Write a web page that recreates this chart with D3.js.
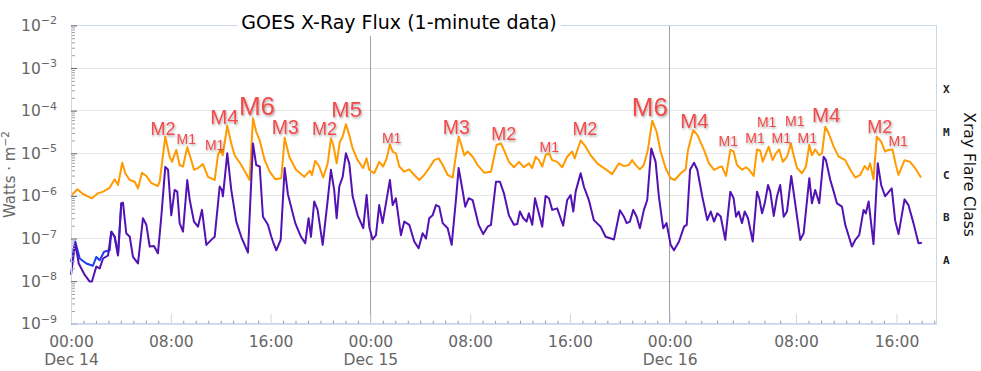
<!DOCTYPE html>
<html>
<head>
<meta charset="utf-8">
<script src="https://cdn.jsdelivr.net/npm/d3@7/dist/d3.min.js"></script>
<style>
  body { margin: 0; background: #fff; }
  svg text { font-family: "DejaVu Sans", sans-serif; }
</style>
</head>
<body>
<div id="chart"></div>
<script>
// hours are counted from Dec 14 00:00 UTC, flux in W/m^2

// GOES long channel (1-8 A), orange
var longChannel = [
  [0.00,1.0e-6],[0.51,1.43e-6],[0.96,1.11e-6],[1.68,8.8e-7],[2.16,1.15e-6],[2.57,1.26e-6],[3.10,1.55e-6],
  [3.50,2.45e-6],[3.77,1.8e-6],[4.11,6.0e-6],[4.35,3.4e-6],[4.71,2.36e-6],[5.11,2.15e-6],[5.37,1.5e-6],
  [5.69,3.5e-6],[6.04,2.93e-6],[6.44,2.0e-6],[6.97,1.71e-6],[7.11,2.15e-6],[7.56,2.45e-5],[7.91,8.3e-6],
  [8.10,6.3e-6],[8.44,1.2e-5],[8.71,5.3e-6],[8.98,4.9e-6],[9.32,1.38e-5],[9.52,9.1e-6],[9.86,4.1e-6],
  [10.18,4.5e-6],[10.58,5.6e-6],[10.98,2.8e-6],[11.52,2.36e-6],[11.78,9.1e-6],[12.00,1.23e-5],[12.16,9.0e-6],
  [12.53,4.4e-5],[12.85,1.7e-5],[13.12,9.0e-6],[13.65,5.3e-6],[14.32,2.36e-6],[14.59,6.6e-5],[14.85,3.2e-5],
  [15.13,2.0e-5],[15.53,6.9e-6],[15.93,3.7e-6],[16.38,2.45e-6],[16.86,2.6e-6],[17.13,2.3e-5],[17.50,8.3e-6],
  [18.04,4.1e-6],[18.70,2.8e-6],[19.16,3.9e-6],[19.32,3.1e-6],[19.58,6.7e-6],[19.90,4.9e-6],[20.22,2.7e-6],
  [20.58,5.8e-6],[20.84,2.25e-5],[21.03,1.57e-5],[21.30,5.8e-6],[21.56,1.87e-5],[21.78,2.45e-5],[22.04,4.8e-5],
  [22.31,2.7e-5],[22.58,1.3e-5],[22.98,6.9e-6],[23.43,4.5e-6],[23.70,7.6e-6],[23.91,4.1e-6],[24.31,3.4e-6],
  [24.71,6.3e-6],[25.03,4.9e-6],[25.31,7.6e-6],[25.57,1.6e-5],[25.79,1.1e-5],[26.05,1.0e-5],[26.32,4.9e-6],
  [26.72,3.7e-6],[27.12,4.2e-6],[27.52,3.1e-6],[27.92,2.36e-6],[28.32,3.1e-6],[28.72,4.5e-6],[29.12,6.9e-6],
  [29.48,7.6e-6],[29.80,5.3e-6],[30.20,3.1e-6],[30.60,2.7e-6],[31.08,2.45e-5],[31.34,1.43e-5],[31.53,9.0e-6],
  [31.80,1.1e-5],[32.20,8.3e-6],[32.60,5.3e-6],[33.13,3.5e-6],[33.67,3.7e-6],[34.12,1.57e-5],[34.47,1.7e-5],
  [34.71,1.2e-5],[35.11,6.3e-6],[35.51,4.7e-6],[35.91,6.3e-6],[36.31,4.7e-6],[36.71,5.8e-6],[36.98,4.5e-6],
  [37.25,8.3e-6],[37.52,6.9e-6],[37.78,4.9e-6],[38.05,9.0e-6],[38.32,1.0e-5],[38.58,6.9e-6],[38.98,6.3e-6],
  [39.38,4.7e-6],[39.78,8.3e-6],[40.18,1.1e-5],[40.38,7.6e-6],[40.86,2.0e-5],[41.26,1.43e-5],[41.66,9.0e-6],
  [42.19,5.8e-6],[42.73,4.5e-6],[43.39,3.25e-6],[43.93,5.8e-6],[44.33,5.0e-6],[44.73,5.3e-6],[44.99,6.9e-6],
  [45.27,5.3e-6],[45.61,4.2e-6],[45.93,5.3e-6],[46.25,1.2e-5],[46.60,5.8e-5],[46.95,3.2e-5],[47.27,1.1e-5],
  [47.67,4.5e-6],[48.06,2.6e-6],[48.32,2.36e-6],[48.70,3.4e-6],[49.01,4.2e-6],[49.16,1.2e-5],[49.49,3.5e-5],
  [49.75,2.7e-5],[50.17,1.2e-5],[50.49,5.8e-6],[50.81,4.1e-6],[51.12,4.7e-6],[51.31,4.9e-6],[51.57,2.95e-6],
  [51.84,1.2e-5],[52.05,1.1e-5],[52.26,5.3e-6],[52.58,4.1e-6],[52.83,4.7e-6],[53.04,4.1e-6],[53.32,2.95e-6],
  [53.53,1.23e-5],[53.74,1.15e-5],[53.89,6.3e-6],[54.27,1.43e-5],[54.52,6.9e-6],[54.73,1.0e-5],[54.94,1.23e-5],
  [55.16,6.3e-6],[55.43,8.3e-6],[55.68,1.7e-5],[55.85,9.0e-6],[56.08,4.5e-6],[56.48,3.4e-6],[56.79,4.9e-6],
  [57.06,1.57e-5],[57.27,9.0e-6],[57.53,1.23e-5],[57.85,9.0e-6],[58.07,1.0e-5],[58.33,4.2e-5],[58.60,2.95e-5],
  [59.00,1.43e-5],[59.40,8.3e-6],[59.92,6.9e-6],[60.32,4.1e-6],[60.72,2.7e-6],[61.11,3.1e-6],[61.46,5.0e-6],
  [61.72,4.1e-6],[61.90,5.8e-6],[62.17,2.45e-6],[62.43,2.45e-5],[62.78,1.87e-5],[63.09,1.1e-5],[63.36,1.2e-5],
  [63.68,1.23e-5],[63.95,5.3e-6],[64.16,3.1e-6],[64.64,6.9e-6],[65.08,6.3e-6],[65.48,4.5e-6],[65.95,2.7e-6]
];

// GOES short channel (0.5-4 A), purple
var shortChannel = [
  [0.00,1.4e-8],[0.34,7.8e-8],[0.62,2.6e-8],[1.10,1.4e-8],[1.50,9.8e-9],[1.68,9.8e-9],[2.03,2.2e-8],
  [2.30,2.0e-8],[2.57,3.4e-8],[2.97,4.0e-8],[3.23,1.45e-7],[3.50,1.1e-7],[3.77,4.0e-8],[4.03,6.7e-7],
  [4.17,6.9e-7],[4.43,1.33e-7],[4.71,1.1e-7],[4.97,3.7e-8],[5.37,2.6e-8],[5.77,3.0e-7],[6.04,2.1e-7],
  [6.31,6.5e-8],[6.65,6.7e-8],[6.97,4.5e-8],[7.24,3.25e-7],[7.56,4.8e-6],[7.78,4.1e-6],[8.04,3.5e-7],
  [8.31,1.38e-6],[8.52,1.26e-6],[8.71,2.3e-7],[8.98,1.45e-7],[9.32,2.36e-6],[9.52,8.0e-7],[9.86,2.5e-7],
  [10.18,1.9e-7],[10.50,4.7e-7],[10.85,7.1e-8],[11.25,9.3e-8],[11.52,1.1e-7],[11.92,1.66e-6],[12.10,1.38e-6],
  [12.18,9.8e-7],[12.53,1.0e-5],[12.85,1.38e-6],[13.25,2.5e-7],[13.65,1.1e-7],[14.19,4.7e-8],[14.59,1.7e-5],
  [14.85,5.3e-6],[15.13,4.9e-6],[15.39,3.25e-7],[15.79,2.1e-7],[16.06,1.1e-7],[16.19,8.5e-8],[16.46,5.3e-8],
  [16.81,9.3e-8],[17.13,4.5e-6],[17.39,1.1e-6],[17.98,2.3e-7],[18.44,1.1e-7],[18.78,7.8e-8],[19.05,3.0e-7],
  [19.24,1.1e-7],[19.50,7.4e-7],[19.77,4.7e-7],[20.18,7.1e-8],[20.58,8.0e-7],[20.84,4.1e-6],[21.10,1.38e-6],
  [21.30,3.0e-7],[21.51,1.66e-6],[21.78,2.8e-6],[22.04,1.0e-5],[22.31,5.8e-6],[22.58,9.8e-7],[22.98,3.5e-7],
  [23.43,1.75e-7],[23.70,1.05e-6],[23.91,1.9e-7],[24.18,9.5e-8],[24.45,1.2e-7],[24.71,6.1e-7],[24.98,2.3e-7],
  [25.25,6.7e-7],[25.57,2.36e-6],[25.79,6.1e-7],[26.05,8.8e-7],[26.45,1.2e-7],[26.72,2.5e-7],[27.12,2.1e-7],
  [27.52,8.5e-8],[27.87,5.9e-8],[28.19,1.33e-7],[28.46,1.0e-7],[28.72,3.0e-7],[28.99,3.5e-7],[29.26,6.1e-7],
  [29.52,5.6e-7],[29.80,2.3e-7],[30.20,1.75e-7],[30.52,7.1e-8],[30.86,8.0e-7],[31.08,4.5e-6],[31.34,1.66e-6],
  [31.61,5.6e-7],[31.88,8.8e-7],[32.20,8.0e-7],[32.68,2.1e-7],[33.05,1.27e-7],[33.40,1.9e-7],[33.67,2.1e-7],
  [34.07,2.15e-6],[34.39,2.15e-6],[34.71,1.15e-6],[35.11,3.5e-7],[35.51,2.1e-7],[35.78,2.2e-7],[35.99,4.3e-7],
  [36.26,3.0e-7],[36.53,2.5e-7],[36.71,3.9e-7],[36.98,2.1e-7],[37.20,8.8e-7],[37.44,4.7e-7],[37.78,1.9e-7],
  [38.05,1.0e-6],[38.32,8.8e-7],[38.58,4.7e-7],[38.98,5.1e-7],[39.46,2.0e-7],[39.78,8.0e-7],[40.06,1.05e-6],
  [40.27,4.3e-7],[40.46,1.26e-6],[40.86,3.4e-6],[41.12,1.66e-6],[41.52,8.0e-7],[41.92,2.7e-7],[42.46,1.9e-7],
  [42.86,1.1e-7],[43.53,9.5e-8],[44.01,4.6e-7],[44.33,3.25e-7],[44.55,2.3e-7],[44.81,2.5e-7],[45.08,4.7e-7],
  [45.35,3.25e-7],[45.61,1.75e-7],[45.93,4.7e-7],[46.20,8.0e-7],[46.52,1.3e-5],[46.87,6.3e-6],[47.13,9.8e-7],
  [47.48,1.75e-7],[47.75,2.3e-7],[48.06,7.1e-8],[48.27,5.3e-8],[48.59,8.5e-8],[48.91,1.9e-7],[49.08,2.1e-7],
  [49.29,4.1e-6],[49.54,6.0e-6],[49.75,4.1e-6],[50.06,9.8e-7],[50.38,2.7e-7],[50.60,4.3e-7],[50.81,2.5e-7],
  [51.01,3.9e-7],[51.23,3.3e-7],[51.52,9.3e-8],[51.84,1.26e-6],[52.05,8.8e-7],[52.20,3.25e-7],[52.37,4.3e-7],
  [52.58,2.3e-7],[52.75,4.3e-7],[52.96,3.0e-7],[53.26,8.5e-8],[53.53,1.26e-6],[53.67,8.8e-7],[53.85,3.9e-7],
  [54.02,6.7e-7],[54.23,1.8e-6],[54.37,1.26e-6],[54.59,3.4e-7],[54.80,9.8e-7],[55.00,1.8e-6],[55.22,3.25e-7],
  [55.43,4.3e-7],[55.70,2.95e-6],[55.92,8.0e-7],[56.34,9.3e-8],[56.61,1.33e-7],[57.06,2.6e-6],[57.27,6.7e-7],
  [57.53,1.38e-6],[57.85,6.7e-7],[58.20,8.3e-6],[58.38,6.9e-6],[58.73,2.36e-6],[59.00,1.26e-6],[59.26,6.7e-7],
  [59.66,5.6e-7],[59.92,2.1e-7],[60.45,6.5e-8],[60.72,9.3e-8],[61.03,1.2e-7],[61.38,4.7e-7],[61.56,3.9e-7],
  [61.78,7.4e-7],[62.17,7.4e-8],[62.51,5.8e-6],[62.78,1.8e-6],[63.09,9.8e-7],[63.62,1.5e-6],[63.89,2.7e-7],
  [64.16,1.27e-7],[64.64,8.3e-7],[64.95,6.1e-7],[65.35,2.3e-7],[65.75,7.8e-8],[66.02,8.0e-8]
];

// second satellite short channel, blue (only visible where it leaves the purple one)
var shortChannelB = [
  [0.00,2.8e-8],[0.34,8.5e-8],[0.70,3.4e-8],[1.23,2.6e-8],[1.76,2.3e-8],[2.03,3.7e-8],[2.30,3.1e-8],
  [2.65,4.9e-8],[3.10,5.3e-8],[3.23,1.45e-7],[3.50,1.1e-7],[3.77,4.2e-8],[4.03,6.7e-7]
];

// flare annotations
var flareClass = ["M2","M1","M1","M4","M6","M3","M2","M5","M1","M3","M2","M1","M2","M6","M4",
                  "M1","M1","M1","M1","M1","M1","M4","M2","M1"];
var flareHours = [7.37,9.24,11.52,12.30,14.91,17.19,20.32,22.10,25.71,30.89,34.69,38.34,41.20,46.41,49.57,
                  51.71,53.40,54.14,55.07,55.92,56.90,58.40,62.67,64.13];
var flareFlux  = [2.42e-5,1.48e-5,1.07e-5,4.38e-5,7.1e-5,2.55e-5,2.42e-5,6.28e-5,1.59e-5,2.55e-5,1.84e-5,9.8e-6,
                  2.38e-5,6.74e-5,3.47e-5,1.33e-5,1.59e-5,3.78e-5,1.59e-5,3.93e-5,1.59e-5,4.95e-5,2.74e-5,1.33e-5];

// axis ticks
var yTickExponents = [-9,-8,-7,-6,-5,-4,-3,-2];
var xTickHours = [0,8,16,24,32,40,48,56,64];
var dayStarts = [0,24,48];
var dayNames = ["Dec 14","Dec 15","Dec 16"];
var classLetters = ["A","B","C","M","X"];
var classFloors = [1e-8,1e-7,1e-6,1e-5,1e-4];

var width = 981;
var height = 371;
var margin = {top: 25.4, right: 44.3, bottom: 47.2, left: 71};
var plotW = width - margin.left - margin.right;
var plotH = height - margin.top - margin.bottom;

// the time axis of the original is not evenly spaced around the start of Dec 16
var x = d3.scaleLinear()
    .domain([0, 48, 56, 67.2])
    .range([0, 598.7, 725, plotW]);

var y = d3.scaleLog()
    .domain([1e-9, 1e-2])
    .range([plotH, 0]);

var flareSize = {M1: 14, M2: 18, M3: 19.5, M4: 20.5, M5: 22, M6: 26};

var svg = d3.select("#chart")
    .append("svg")
    .attr("width", width)
    .attr("height", height);

var defs = svg.append("defs");
defs.append("filter")
    .attr("id", "shadow")
    .attr("x", "-30%").attr("y", "-30%")
    .attr("width", "160%").attr("height", "170%")
  .append("feDropShadow")
    .attr("dx", 1).attr("dy", 1.5)
    .attr("stdDeviation", 1.3)
    .attr("flood-color", "#000")
    .attr("flood-opacity", 0.35);

var plot = svg.append("g")
    .attr("transform", "translate(" + margin.left + "," + margin.top + ")");

// horizontal grid at each decade
plot.append("g").selectAll("line")
    .data(yTickExponents)
    .enter().append("line")
    .attr("x1", 0).attr("x2", plotW)
    .attr("y1", function(e) { return y(Math.pow(10, e)); })
    .attr("y2", function(e) { return y(Math.pow(10, e)); })
    .attr("stroke", "#e6e6e6")
    .attr("shape-rendering", "crispEdges");

// day separators
plot.append("g").selectAll("line")
    .data(dayStarts.slice(1))
    .enter().append("line")
    .attr("x1", function(h) { return x(h); })
    .attr("x2", function(h) { return x(h); })
    .attr("y1", 0).attr("y2", plotH)
    .attr("stroke", "#a0a0a0")
    .attr("shape-rendering", "crispEdges");

var line = d3.line()
    .x(function(d) { return x(d[0]); })
    .y(function(d) { return y(d[1]); });

plot.append("path")
    .datum(longChannel)
    .attr("d", line)
    .attr("fill", "none")
    .attr("stroke", "#ff9a00")
    .attr("stroke-width", 2)
    .attr("stroke-linejoin", "round");

plot.append("path")
    .datum(shortChannelB)
    .attr("d", line)
    .attr("fill", "none")
    .attr("stroke", "#1f3cf5")
    .attr("stroke-width", 2)
    .attr("stroke-linejoin", "round");

plot.append("path")
    .datum(shortChannel)
    .attr("d", line)
    .attr("fill", "none")
    .attr("stroke", "#5212b4")
    .attr("stroke-width", 2)
    .attr("stroke-linejoin", "round");

// flare class labels
plot.append("g").selectAll("text")
    .data(flareClass)
    .enter().append("text")
    .attr("x", function(d, i) { return x(flareHours[i]); })
    .attr("y", function(d, i) { return y(flareFlux[i]) - 2; })
    .attr("text-anchor", "middle")
    .attr("fill", "#f24a4a")
    .attr("filter", "url(#shadow)")
    .style("font-family", "'Liberation Sans', Arial, sans-serif")
    .style("font-size", function(d) { return flareSize[d] + "px"; })
    .text(function(d) { return d; });

// plot frame
plot.append("rect")
    .attr("width", plotW).attr("height", plotH)
    .attr("fill", "none")
    .attr("stroke", "#ccd6eb")
    .attr("shape-rendering", "crispEdges");

// y axis: decade ticks and minor ticks
var minorFlux = [];
yTickExponents.slice(0, -1).forEach(function(e) {
    d3.range(2, 10).forEach(function(k) { minorFlux.push(k * Math.pow(10, e)); });
});

var gyMinor = plot.append("g")
    .call(d3.axisLeft(y).tickValues(minorFlux).tickSize(-4).tickFormat(""));
gyMinor.select(".domain").remove();
gyMinor.selectAll(".tick line").attr("stroke", "#a0a0a0");

var gy = plot.append("g")
    .call(d3.axisLeft(y).tickValues(yTickExponents.map(function(e) { return Math.pow(10, e); }))
        .tickSize(-6).tickSizeOuter(0).tickFormat(""));
gy.select(".domain").attr("stroke", "#ccd6eb");
gy.selectAll(".tick line").attr("stroke", "#666");

var yLabels = plot.append("g").selectAll("text")
    .data(yTickExponents)
    .enter().append("text")
    .attr("x", -14)
    .attr("y", function(e) { return y(Math.pow(10, e)) + 5.5; })
    .attr("text-anchor", "end")
    .attr("fill", "#666")
    .style("font-size", "15.5px");
yLabels.append("tspan").text("10");
yLabels.append("tspan")
    .attr("dy", -6.5)
    .style("font-size", "11px")
    .text(function(e) { return "\u2212" + Math.abs(e); });

// x axis: hourly minor ticks, 8-hour major ticks with labels
var minorHours = d3.range(1, 68).filter(function(h) { return h % 8 !== 0; });
var gxMinor = plot.append("g")
    .attr("transform", "translate(0," + plotH + ")")
    .call(d3.axisBottom(x).tickValues(minorHours).tickSize(-3).tickFormat(""));
gxMinor.select(".domain").remove();
gxMinor.selectAll(".tick line").attr("stroke", "#999");

var gx = plot.append("g")
    .attr("transform", "translate(0," + plotH + ")")
    .call(d3.axisBottom(x).tickValues(xTickHours).tickSizeInner(-10).tickSizeOuter(0).tickPadding(12)
        .tickFormat(function(h) { return d3.format("02")(h % 24) + ":00"; }));
gx.select(".domain").attr("stroke", "#ccd6eb");
gx.selectAll(".tick line").attr("stroke", "#ccd6eb");
gx.selectAll(".tick text")
    .attr("fill", "#666")
    .style("font-family", "'DejaVu Sans', sans-serif")
    .style("font-size", "15.5px")
    .filter(function(h) { return dayStarts.indexOf(h) >= 0; })
    .append("tspan")
    .attr("x", 0)
    .attr("dy", "1.2em")
    .text(function(h) { return dayNames[dayStarts.indexOf(h)]; });

// flare class letters on the right
plot.append("g").selectAll("text")
    .data(classLetters)
    .enter().append("text")
    .attr("x", plotW + 9.5)
    .attr("y", function(d, i) { return y(classFloors[i] * Math.sqrt(10)) + 4; })
    .attr("text-anchor", "middle")
    .attr("fill", "#222")
    .style("font-family", "'DejaVu Sans Mono', monospace")
    .style("font-weight", "bold")
    .style("font-size", "11px")
    .text(function(d) { return d; });

svg.append("text")
    .attr("transform", "translate(964," + (margin.top + plotH / 2) + ") rotate(90)")
    .attr("text-anchor", "middle")
    .attr("fill", "#111")
    .style("font-size", "15.5px")
    .text("Xray Flare Class");

var yTitle = svg.append("text")
    .attr("transform", "translate(15," + (margin.top + plotH / 2) + ") rotate(-90)")
    .attr("text-anchor", "middle")
    .attr("fill", "#666")
    .style("font-size", "15px");
yTitle.append("tspan").text("Watts \u00b7 m");
yTitle.append("tspan").attr("dy", -6).style("font-size", "10.5px").text("\u22122");

// title with a white box that hides the frame and day line behind it
var titleBox = svg.append("rect").attr("fill", "#fff");
var title = svg.append("text")
    .attr("x", 399)
    .attr("y", 29.3)
    .attr("text-anchor", "middle")
    .attr("fill", "#000")
    .style("font-size", "19px")
    .text("GOES X-Ray Flux (1-minute data)");
var tb = title.node().getBBox();
titleBox
    .attr("x", tb.x - 4)
    .attr("y", 4)
    .attr("width", tb.width + 8)
    .attr("height", 36 - 4);
</script>
</body>
</html>
